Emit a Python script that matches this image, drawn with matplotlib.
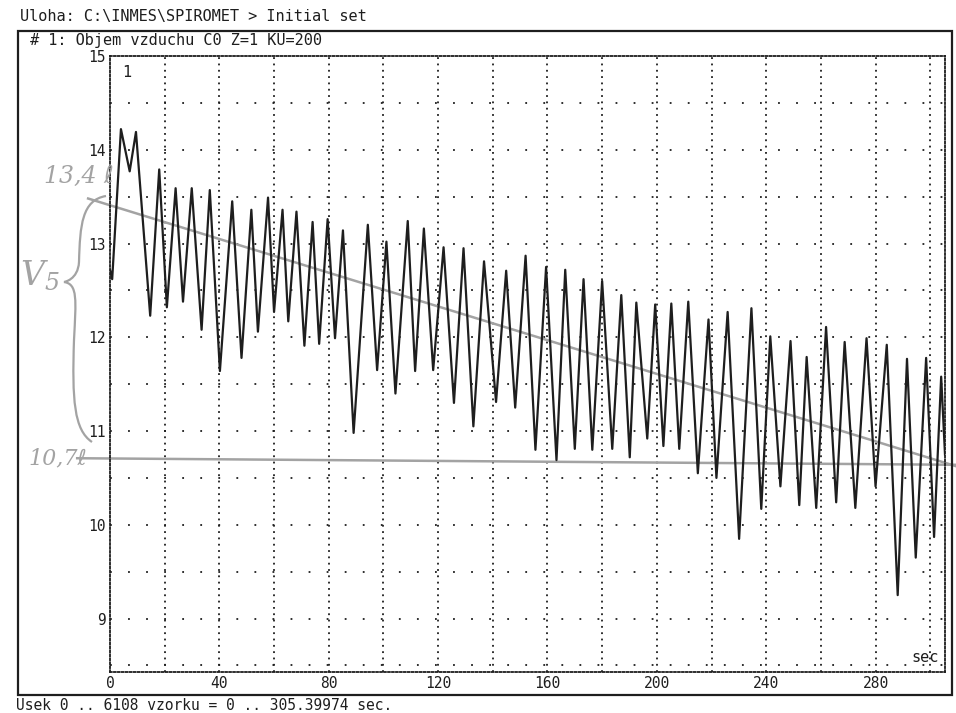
import numpy as np
import matplotlib.pyplot as plt
from matplotlib.patches import Rectangle, PathPatch
from matplotlib.path import Path

# breath extrema (sec, litres)
t_sec = [0, 0.8, 4.0, 7.2, 9.5, 14.7, 18.0, 20.8, 24.0, 26.7, 29.9, 33.5, 36.5, 40.2,
         44.7, 48.1, 51.7, 54.1, 57.8, 60.0, 63.1, 65.2, 68.2, 71.1, 74.1, 76.5, 79.6,
         82.3, 85.2, 89.1, 94.3, 97.7, 101.1, 104.4, 108.9, 111.6, 114.8, 118.2, 122.0,
         125.8, 129.3, 132.9, 136.8, 141.2, 144.9, 148.2, 152.0, 155.6, 159.5, 163.3,
         166.5, 170.0, 173.2, 176.4, 180.0, 183.7, 187.0, 190.1, 192.5, 196.5, 199.4,
         202.4, 205.3, 208.2, 211.5, 215.0, 218.9, 221.8, 225.9, 230.1, 234.6, 238.2,
         241.5, 245.2, 248.9, 252.1, 254.8, 258.3, 261.9, 265.6, 268.7, 272.6, 276.7,
         280.0, 284.1, 288.1, 291.5, 294.7, 298.5, 301.4, 304.0, 305.4]
volume = [12.72, 12.62, 14.22, 13.77, 14.19, 12.23, 13.79, 12.32, 13.59, 12.38, 13.59,
          12.08, 13.57, 11.64, 13.45, 11.78, 13.36, 12.06, 13.49, 12.27, 13.36, 12.17,
          13.34, 11.91, 13.23, 11.93, 13.26, 11.99, 13.14, 10.98, 13.20, 11.65, 13.02,
          11.40, 13.24, 11.64, 13.16, 11.65, 12.96, 11.30, 12.95, 11.05, 12.81, 11.31,
          12.71, 11.25, 12.87, 10.80, 12.75, 10.69, 12.72, 10.81, 12.62, 10.80, 12.60,
          10.81, 12.45, 10.72, 12.37, 10.92, 12.35, 10.84, 12.36, 10.81, 12.38, 10.55,
          12.19, 10.50, 12.27, 9.85, 12.31, 10.17, 12.01, 10.41, 11.96, 10.21, 11.79,
          10.18, 12.11, 10.24, 11.95, 10.18, 11.99, 10.41, 11.92, 9.25, 11.77, 9.65,
          11.78, 9.87, 11.58, 10.75]

x_ticks = [0, 40, 80, 120, 160, 200, 240, 280]
y_ticks = [9, 10, 11, 12, 13, 14, 15]

# pencil marks added by hand on the printout
trend_x = [-8, 310]
trend_y = [13.48, 10.62]
base_x = [-12, 310]
base_y = [10.71, 10.64]

W, H = 956, 713
mono = 'DejaVu Sans Mono'
ink = '#1e1e1e'
pencil = '#a3a3a3'


def px(x, y):
    return (x / W, 1 - y / H)


fig = plt.figure(figsize=(W / 100, H / 100), dpi=100)
left, right, top, bottom = 110, 945, 56, 672
ax = fig.add_axes([left / W, 1 - bottom / H, (right - left) / W, (bottom - top) / H])

ax.plot(t_sec, volume, color=ink, lw=1.6, zorder=3)

ax.set_xlim(0, 305.4)
ax.set_ylim(8.43, 15)

for gx in np.arange(20, 305, 20):
    ax.axvline(gx, color=ink, lw=1.3, ls=(0, (1, 2.5)), zorder=1)
for gy in np.arange(8.5, 15, 0.5):
    ax.axhline(gy, color=ink, lw=1.3, ls=(0, (1, 9)), zorder=1)

for s in ax.spines.values():
    s.set_linestyle((0, (1, 1.2)))
    s.set_linewidth(1.3)
    s.set_color(ink)

ax.set_xticks(x_ticks)
ax.set_yticks(y_ticks)
ax.set_xticklabels([str(v) for v in x_ticks], family=mono, fontsize=10.5, color=ink)
ax.set_yticklabels([str(v) for v in y_ticks], family=mono, fontsize=10.5, color=ink)
ax.tick_params(length=0, pad=3)

ax.text(0.015, 0.985, '1', transform=ax.transAxes, family=mono, fontsize=11,
        color=ink, va='top', ha='left')
ax.text(0.992, 0.012, 'sec', transform=ax.transAxes, family=mono, fontsize=11,
        color=ink, va='bottom', ha='right')

# pencil lines
ax.plot(trend_x, trend_y, color=pencil, lw=1.8, clip_on=False, zorder=2)
ax.plot(base_x, base_y, color=pencil, lw=1.8, clip_on=False, zorder=2)

# outer frame and text lines of the printout
fig.add_artist(Rectangle(px(18, 695), (952 - 18) / W, (695 - 31) / H,
                         transform=fig.transFigure, fill=False, ec=ink, lw=1.6))
fig.text(*px(20, 17), 'Uloha: C:\\INMES\\SPIROMET > Initial set', family=mono,
         fontsize=11, color=ink, va='center', ha='left')
fig.text(*px(30, 41), '# 1: Objem vzduchu C0 Z=1 KU=200', family=mono,
         fontsize=11, color=ink, va='center', ha='left')
fig.text(*px(16, 705), 'Usek 0 .. 6108 vzorku = 0 .. 305.39974 sec.', family=mono,
         fontsize=10.5, color=ink, va='center', ha='left')

# handwritten notes
hand = dict(color=pencil, style='italic', family=['DejaVu Serif', 'DejaVu Sans'],
            va='center', ha='left')
fig.text(*px(44, 176), '13,4 ℓ', fontsize=17, **hand)
fig.text(*px(20, 276), 'V', fontsize=24, **hand)
fig.text(*px(44, 284), '5', fontsize=17, **hand)
fig.text(*px(28, 458), '10,7ℓ', fontsize=16, **hand)

verts = [px(106, 196), px(82, 200), px(80, 225), px(79, 262),
         px(78, 280), px(64, 282), px(64, 282),
         px(78, 284), px(76, 300), px(74, 340),
         px(72, 400), px(74, 430), px(92, 442)]
codes = [Path.MOVETO, Path.CURVE4, Path.CURVE4, Path.CURVE4,
         Path.CURVE4, Path.CURVE4, Path.CURVE4,
         Path.CURVE4, Path.CURVE4, Path.CURVE4,
         Path.CURVE4, Path.CURVE4, Path.CURVE4]
fig.add_artist(PathPatch(Path(verts, codes), transform=fig.transFigure,
                         fill=False, ec=pencil, lw=1.6))

fig.savefig('out.png', dpi=100)
